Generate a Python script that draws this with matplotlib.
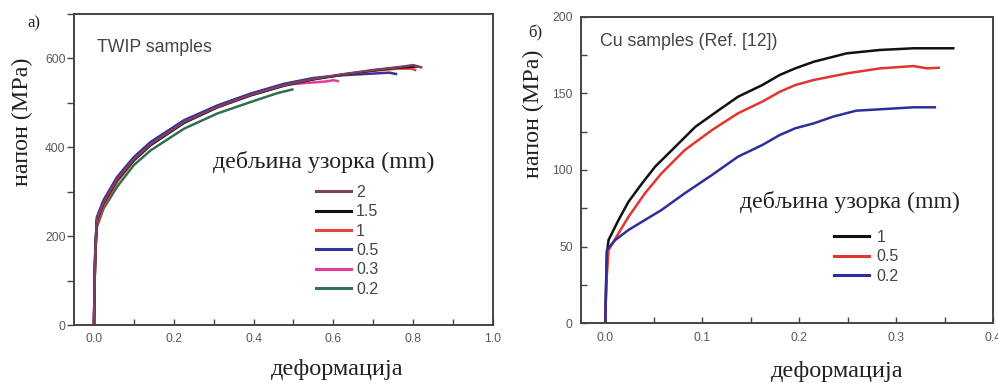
import matplotlib
matplotlib.use("Agg")
import matplotlib.pyplot as plt
from matplotlib.ticker import MultipleLocator, FormatStrFormatter

# ---------------- data: TWIP samples (panel a) ----------------
twip_labels = ["2", "1.5", "1", "0.5", "0.3", "0.2"]
twip_colors = ["#7d3f62", "#111111", "#e8453c", "#33339a", "#e23d9e", "#2e7050"]

twip_x_2 = [0, 0.002, 0.0035, 0.0075, 0.024, 0.058, 0.1, 0.142, 0.226, 0.309, 0.393, 0.477, 0.55, 0.62, 0.70, 0.76, 0.80, 0.82]
twip_y_2 = [0, 110, 170, 238, 276, 328, 373, 407, 457, 491, 518, 540, 554, 564, 574, 580, 585, 580]
twip_x_15 = [0, 0.002, 0.0035, 0.0075, 0.024, 0.058, 0.1, 0.142, 0.226, 0.309, 0.393, 0.477, 0.55, 0.62, 0.70, 0.76, 0.81]
twip_y_15 = [0, 110, 168, 236, 274, 326, 371, 405, 455, 490, 517, 539, 553, 563, 573, 579, 582]
twip_x_1 = [0, 0.002, 0.0035, 0.0075, 0.024, 0.058, 0.1, 0.142, 0.226, 0.309, 0.393, 0.477, 0.55, 0.62, 0.70, 0.76, 0.795, 0.805]
twip_y_1 = [0, 100, 160, 228, 268, 322, 370, 405, 456, 490, 517, 539, 553, 563, 572, 577, 577, 574]
twip_x_05 = [0, 0.002, 0.0035, 0.0075, 0.024, 0.058, 0.1, 0.142, 0.226, 0.309, 0.393, 0.477, 0.55, 0.62, 0.70, 0.74, 0.757]
twip_y_05 = [0, 120, 176, 243, 281, 333, 378, 412, 461, 494, 521, 543, 556, 562, 566, 568, 565]
twip_x_03 = [0, 0.002, 0.0035, 0.0075, 0.024, 0.058, 0.1, 0.142, 0.226, 0.309, 0.393, 0.477, 0.58, 0.60, 0.611]
twip_y_03 = [0, 115, 174, 241, 279, 331, 376, 410, 460, 493, 520, 541, 548, 551, 549]
twip_x_02 = [0, 0.002, 0.0035, 0.0075, 0.024, 0.058, 0.1, 0.142, 0.226, 0.309, 0.393, 0.46, 0.497]
twip_y_02 = [0, 110, 165, 221, 262, 311, 360, 393, 442, 476, 502, 522, 530]

# ---------------- data: Cu samples (panel b) ----------------
cu_labels = ["1", "0.5", "0.2"]
cu_colors = ["#111111", "#e2352e", "#2f2f9c"]

cu_x_1 = [0, 0.001, 0.0017, 0.0034, 0.0137, 0.024, 0.038, 0.0515, 0.0688, 0.093, 0.117, 0.137,
          0.162, 0.18, 0.196, 0.215, 0.249, 0.2835, 0.318, 0.359]
cu_y_1 = [0, 30, 45.6, 54.3, 67.4, 79.3, 91.3, 102.2, 113, 128.2, 139, 147.8,
          155.4, 162, 166.3, 170.6, 176.1, 178.3, 179.4, 179.4]
cu_x_05 = [0, 0.001, 0.0034, 0.0137, 0.024, 0.041, 0.058, 0.082, 0.11, 0.137, 0.162, 0.18,
           0.196, 0.215, 0.249, 0.2835, 0.318, 0.332, 0.344]
cu_y_05 = [0, 25, 47.8, 58.7, 69.5, 84.8, 97.8, 113, 126, 137, 144.6, 151,
           155.4, 158.7, 163, 166.3, 167.8, 166.3, 166.7]
cu_x_02 = [0, 0.001, 0.0017, 0.0103, 0.024, 0.041, 0.058, 0.082, 0.11, 0.137, 0.162, 0.18,
           0.196, 0.215, 0.235, 0.259, 0.2835, 0.318, 0.34]
cu_y_02 = [0, 25, 47.8, 54.3, 60.9, 67.4, 73.9, 84.8, 96.7, 108.7, 116.3, 122.8,
           127.2, 130.4, 134.8, 138.7, 139.6, 140.9, 140.9]

twip_series = [(twip_x_2, twip_y_2), (twip_x_15, twip_y_15), (twip_x_1, twip_y_1),
               (twip_x_05, twip_y_05), (twip_x_03, twip_y_03), (twip_x_02, twip_y_02)]
cu_series = [(cu_x_1, cu_y_1), (cu_x_05, cu_y_05), (cu_x_02, cu_y_02)]

W, H = 998, 383
fig = plt.figure(figsize=(W / 100, H / 100), dpi=100)

SERIF = ["Liberation Serif", "DejaVu Serif"]
SANS = ["Liberation Sans", "DejaVu Sans"]
TICK_COLOR = "#5a5a5a"
SPINE_COLOR = "#444444"
TEXT_DARK = "#222222"


def rect(l, t, r, b):
    return [l / W, 1 - b / H, (r - l) / W, (b - t) / H]


def style(ax, ydir):
    for s in ax.spines.values():
        s.set_color(SPINE_COLOR)
        s.set_linewidth(1.4)
    ax.tick_params(which="both", colors=SPINE_COLOR, labelcolor=TICK_COLOR,
                   labelsize=8.7, width=1.0, top=False, right=False)
    ax.tick_params(axis="x", which="both", direction="in", length=4, pad=6)
    if ydir == "out":
        ax.tick_params(axis="y", which="both", direction="out", length=5, pad=1)
    else:
        ax.tick_params(axis="y", which="both", direction="in", length=4, pad=6)
    for lab in ax.get_xticklabels() + ax.get_yticklabels():
        lab.set_family(SANS)


# ---- panel a ----
ax1 = fig.add_axes(rect(74, 14, 493, 325))
for (x, y), c, lab in zip(twip_series[::-1], twip_colors[::-1], twip_labels[::-1]):
    ax1.plot(x, y, color=c, lw=1.8, label=lab, solid_joinstyle="round")
ax1.set_xlim(-0.05, 1.0)
ax1.set_ylim(0, 700)
ax1.xaxis.set_major_locator(MultipleLocator(0.2))
ax1.xaxis.set_minor_locator(MultipleLocator(0.1))
ax1.yaxis.set_major_locator(MultipleLocator(200))
ax1.yaxis.set_minor_locator(MultipleLocator(100))
ax1.xaxis.set_major_formatter(FormatStrFormatter("%.1f"))
style(ax1, "out")
fig.text(97 / W, 1 - 47 / H, "TWIP samples", family=SANS, fontsize=12.8, color="#444444",
         va="center", ha="left")
fig.text(213 / W, 1 - 162 / H, "дебљина узорка (mm)", family=SERIF, fontsize=17.3,
         color=TEXT_DARK, va="center", ha="left")
h, l = ax1.get_legend_handles_labels()
leg1 = ax1.legend(h[::-1], l[::-1], loc="upper left", bbox_to_anchor=(316 / W, 1 - 185 / H),
                  bbox_transform=fig.transFigure, frameon=False, borderpad=0, borderaxespad=0,
                  handlelength=2.2, handletextpad=0.3, labelspacing=0.27,
                  prop={"family": SANS, "size": 11.5})
for t in leg1.get_texts():
    t.set_color("#444444")
for ln in leg1.get_lines():
    ln.set_linewidth(2.2)
fig.text(22 / W, 1 - 122 / H, "напон (MPa)", family=SERIF, fontsize=17.3, rotation=90,
         va="center", ha="center", color=TEXT_DARK)
fig.text(337 / W, 1 - 370 / H, "деформација", family=SERIF, fontsize=17.5,
         va="center", ha="center", color=TEXT_DARK)
fig.text(34 / W, 1 - 23 / H, "а)", family=SERIF, fontsize=12, va="center", ha="center",
         color=TEXT_DARK)

# ---- panel b ----
ax2 = fig.add_axes(rect(581, 16.7, 993, 323.3))
for (x, y), c, lab in zip(cu_series, cu_colors, cu_labels):
    ax2.plot(x, y, color=c, lw=1.8, label=lab, solid_joinstyle="round")
ax2.set_xlim(-0.025, 0.4)
ax2.set_ylim(0, 200)
ax2.xaxis.set_major_locator(MultipleLocator(0.1))
ax2.xaxis.set_minor_locator(MultipleLocator(0.05))
ax2.yaxis.set_major_locator(MultipleLocator(50))
ax2.yaxis.set_minor_locator(MultipleLocator(25))
ax2.xaxis.set_major_formatter(FormatStrFormatter("%.1f"))
style(ax2, "in")
fig.text(600 / W, 1 - 41 / H, "Cu samples (Ref. [12])", family=SANS, fontsize=12.8,
         color="#444444", va="center", ha="left")
fig.text(740 / W, 1 - 202 / H, "дебљина узорка (mm)", family=SERIF, fontsize=17.2,
         color=TEXT_DARK, va="center", ha="left")
leg2 = ax2.legend(loc="upper left", bbox_to_anchor=(834 / W, 1 - 230 / H),
                  bbox_transform=fig.transFigure, frameon=False, borderpad=0, borderaxespad=0,
                  handlelength=2.2, handletextpad=0.45, labelspacing=0.27,
                  prop={"family": SANS, "size": 11.5})
for t in leg2.get_texts():
    t.set_color("#444444")
for ln in leg2.get_lines():
    ln.set_linewidth(2.2)
fig.text(533 / W, 1 - 114 / H, "напон (MPa)", family=SERIF, fontsize=17.3, rotation=90,
         va="center", ha="center", color=TEXT_DARK)
fig.text(837 / W, 1 - 372 / H, "деформација", family=SERIF, fontsize=17.5,
         va="center", ha="center", color=TEXT_DARK)
fig.text(535 / W, 1 - 33 / H, "б)", family=SERIF, fontsize=12, va="center", ha="center",
         color=TEXT_DARK)

fig.savefig("out.png", dpi=100)
